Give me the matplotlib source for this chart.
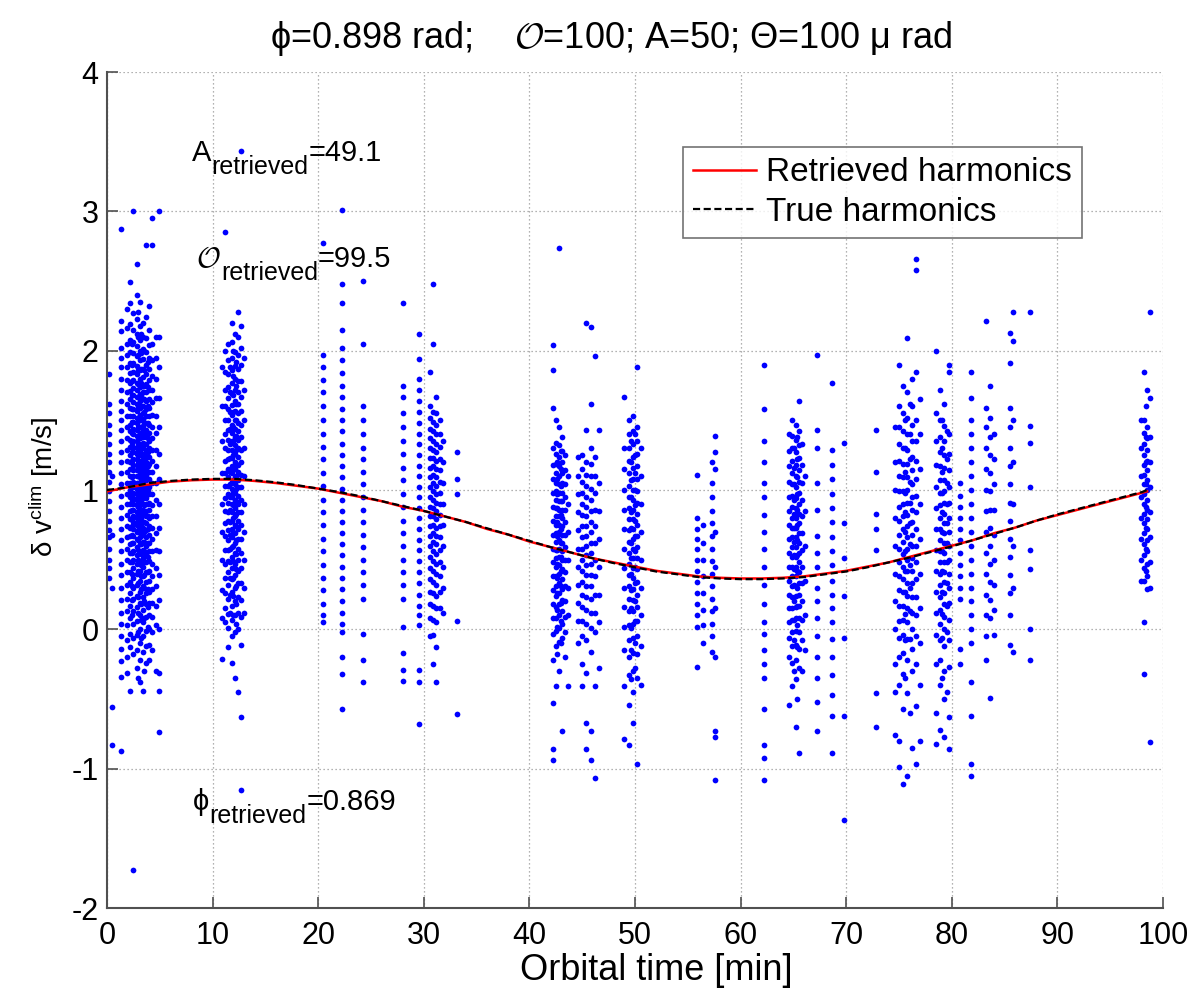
import matplotlib
matplotlib.use("Agg")
import matplotlib.pyplot as plt

plt.rcParams['font.family'] = ['Liberation Sans', 'DejaVu Sans']
plt.rcParams['mathtext.fontset'] = 'custom'
plt.rcParams['mathtext.rm'] = 'Liberation Sans'
plt.rcParams['mathtext.it'] = 'Liberation Sans:italic'
plt.rcParams['mathtext.bf'] = 'Liberation Sans:bold'
plt.rcParams['mathtext.sf'] = 'Liberation Sans'
plt.rcParams['mathtext.cal'] = 'cmsy10'

# ---------------- harmonic curves ----------------
curve_t = [0, 2, 4, 6, 8, 10, 12, 14, 16, 18, 20, 22, 24, 26, 28, 30, 32, 34, 36, 38,
           40, 42, 44, 46, 48, 50, 52, 54, 56, 58, 60, 62, 64, 66, 68, 70, 72, 74, 76, 78,
           80, 82, 84, 86, 88, 90, 92, 94, 96, 98, 98.5]
retrieved_v = [0.99, 1.02, 1.04, 1.06, 1.07, 1.075, 1.075, 1.065, 1.05, 1.03, 1.01, 0.98, 0.95,
               0.92, 0.88, 0.85, 0.81, 0.77, 0.72, 0.68, 0.63, 0.59, 0.55, 0.51, 0.48, 0.45, 0.42,
               0.40, 0.38, 0.37, 0.365, 0.365, 0.37, 0.38, 0.40, 0.42, 0.45, 0.48, 0.52, 0.56, 0.60,
               0.64, 0.69, 0.73, 0.78, 0.82, 0.86, 0.90, 0.94, 0.98, 0.99]
true_v = [1.0, 1.02, 1.05, 1.065, 1.075, 1.08, 1.08, 1.07, 1.055, 1.035, 1.01, 0.985, 0.955,
          0.92, 0.885, 0.85, 0.81, 0.77, 0.725, 0.68, 0.635, 0.59, 0.55, 0.51, 0.475, 0.445, 0.415,
          0.395, 0.375, 0.365, 0.36, 0.36, 0.365, 0.375, 0.395, 0.415, 0.445, 0.48, 0.515, 0.555,
          0.595, 0.64, 0.685, 0.73, 0.78, 0.825, 0.865, 0.905, 0.945, 0.985, 1.0]

# ---------------- scatter data: tracks (x) and their y values ----------------
cA_x = [0.15, 0.5, 1.3]
cA_y = [[1.83, 1.62, 1.55, 1.47, 1.4, 1.33, 1.26, 1.2, 1.13, 1.06, 0.99, 0.92, 0.85, 0.78, 0.71, 0.66, 0.58, 0.5, 0.44, 0.37],
        [1.1, 0.68, 0.3, -0.56, -0.83],
        [2.87, 2.21, 2.14, 2.02, 1.95, 1.88, 1.8, 1.72, 1.64, 1.57, 1.5, 1.43, 1.35, 1.27, 1.2, 1.12, 1.04, 0.96, 0.88,
         0.8, 0.72, 0.64, 0.56, 0.47, 0.39, 0.3, 0.21, 0.12, 0.04, -0.05, -0.14, -0.23, -0.34, -0.87]]

cB_x = [1.9, 2.2, 2.5, 2.8, 3.1, 3.4, 3.7, 4.0, 4.3, 4.6, 4.9, 2.35, 2.95, 3.25, 3.55, 3.85]
cB_y = [[2.3, 2.16, 2.05, 1.97, 1.88, 1.79, 1.7, 1.62, 1.53, 1.45, 1.37, 1.29, 1.21, 1.13, 1.05, 0.97, 0.9, 0.82, 0.74,
         0.66, 0.58, 0.5, 0.41, 0.32, 0.22, 0.13, 0.03, -0.08, -0.2, -0.31],
        [2.49, 2.34, 2.19, 2.08, 1.99, 1.91, 1.84, 1.77, 1.71, 1.65, 1.59, 1.53, 1.47, 1.42, 1.36, 1.31, 1.25, 1.2, 1.15,
         1.1, 1.05, 1.0, 0.95, 0.9, 0.85, 0.79, 0.73, 0.67, 0.61, 0.55, 0.48, 0.41, 0.34, 0.26, 0.17, 0.08, -0.03, -0.13, -0.44],
        [3.0, 2.27, 2.15, 2.06, 1.98, 1.91, 1.85, 1.79, 1.73, 1.68, 1.63, 1.58, 1.53, 1.49, 1.44, 1.4, 1.35, 1.31, 1.27,
         1.22, 1.18, 1.14, 1.1, 1.06, 1.02, 0.98, 0.94, 0.9, 0.86, 0.81, 0.77, 0.72, 0.67, 0.62, 0.56, 0.5, 0.44, 0.37,
         0.3, 0.22, 0.13, 0.04, -0.06, -0.18, -1.73],
        [2.62, 2.4, 2.23, 2.12, 2.03, 1.96, 1.89, 1.83, 1.77, 1.72, 1.67, 1.62, 1.57, 1.52, 1.48, 1.43, 1.39, 1.35, 1.3,
         1.26, 1.22, 1.18, 1.14, 1.1, 1.05, 1.01, 0.97, 0.93, 0.89, 0.84, 0.8, 0.75, 0.7, 0.65, 0.59, 0.53, 0.47, 0.4,
         0.32, 0.24, 0.16, 0.06, -0.04, -0.15, -0.28],
        [2.35, 2.18, 2.08, 2.0, 1.93, 1.86, 1.8, 1.74, 1.69, 1.64, 1.59, 1.54, 1.5, 1.45, 1.41, 1.37, 1.33, 1.29, 1.25,
         1.21, 1.17, 1.13, 1.09, 1.05, 1.01, 0.97, 0.93, 0.89, 0.85, 0.8, 0.76, 0.71, 0.66, 0.61, 0.55, 0.49, 0.42,
         0.35, 0.27, 0.19, 0.1, 0.0, -0.1, -0.22, -0.38],
        [2.2, 2.1, 2.01, 1.94, 1.87, 1.81, 1.75, 1.7, 1.65, 1.6, 1.55, 1.51, 1.46, 1.42, 1.38, 1.34, 1.3, 1.26, 1.22,
         1.18, 1.14, 1.1, 1.06, 1.02, 0.98, 0.94, 0.9, 0.86, 0.82, 0.77, 0.73, 0.68, 0.63, 0.57, 0.51, 0.45, 0.38,
         0.31, 0.23, 0.14, 0.05, -0.05, -0.16, -0.44],
        [2.76, 2.24, 2.09, 1.99, 1.9, 1.83, 1.76, 1.7, 1.64, 1.58, 1.53, 1.48, 1.43, 1.38, 1.33, 1.29, 1.24, 1.2, 1.15,
         1.11, 1.07, 1.02, 0.98, 0.94, 0.9, 0.85, 0.81, 0.76, 0.71, 0.66, 0.6, 0.54, 0.48, 0.41, 0.34, 0.26, 0.18,
         0.09, -0.01, -0.12, -0.24],
        [2.32, 2.15, 2.04, 1.95, 1.87, 1.79, 1.72, 1.65, 1.59, 1.53, 1.47, 1.41, 1.35, 1.3, 1.24, 1.19, 1.13, 1.08,
         1.02, 0.97, 0.91, 0.86, 0.8, 0.74, 0.68, 0.62, 0.56, 0.49, 0.42, 0.35, 0.27, 0.19, 0.1, 0.0, -0.11, -0.22],
        [2.95, 2.76, 2.05, 1.93, 1.82, 1.72, 1.63, 1.54, 1.45, 1.37, 1.29, 1.21, 1.13, 1.05, 0.97, 0.89, 0.81, 0.73,
         0.65, 0.56, 0.47, 0.38, 0.29, 0.19, 0.09, -0.02, -0.15],
        [2.1, 1.95, 1.8, 1.66, 1.53, 1.41, 1.29, 1.17, 1.05, 0.93, 0.81, 0.69, 0.57, 0.44, 0.31, 0.17, 0.03, -0.3],
        [3.0, 2.1, 1.88, 1.66, 1.45, 1.26, 1.08, 0.9, 0.73, 0.56, 0.39, 0.21, 0.0, -0.31, -0.44, -0.74],
        [2.05, 1.9, 1.78, 1.68, 1.58, 1.49, 1.41, 1.34, 1.27, 1.21, 1.15, 1.09, 1.03, 0.97, 0.92, 0.86, 0.8, 0.74,
         0.68, 0.62, 0.55, 0.48, 0.4, 0.31, 0.21, 0.1],
        [2.28, 2.1, 1.97, 1.86, 1.76, 1.67, 1.59, 1.52, 1.45, 1.39, 1.33, 1.27, 1.21, 1.16, 1.1, 1.05, 0.99, 0.94,
         0.88, 0.83, 0.77, 0.71, 0.64, 0.57, 0.5, 0.42, 0.33, 0.23, 0.12, -0.02, -0.35],
        [2.12, 1.98, 1.87, 1.77, 1.68, 1.6, 1.52, 1.45, 1.38, 1.32, 1.26, 1.2, 1.14, 1.08, 1.03, 0.97, 0.92, 0.86,
         0.8, 0.74, 0.68, 0.61, 0.54, 0.46, 0.38, 0.29, 0.18, 0.07, -0.06],
        [2.0, 1.86, 1.75, 1.65, 1.56, 1.48, 1.4, 1.33, 1.26, 1.19, 1.13, 1.07, 1.01, 0.95, 0.89, 0.83, 0.77, 0.7,
         0.63, 0.56, 0.48, 0.39, 0.3, 0.2, 0.08, -0.3],
        [1.92, 1.74, 1.6, 1.48, 1.37, 1.27, 1.17, 1.08, 0.99, 0.9, 0.81, 0.72, 0.62, 0.52, 0.41, 0.29, 0.16, 0.02]]

cC_x = [10.9, 11.2, 11.5, 11.8, 12.1, 12.4, 12.7, 13.0, 11.65, 11.95, 12.25]
cC_y = [[1.88, 1.6, 1.35, 1.12, 0.9, 0.7, 0.5, 0.28, 0.08, -0.21],
        [2.85, 2.0, 1.85, 1.72, 1.6, 1.5, 1.4, 1.3, 1.21, 1.12, 1.03, 0.94, 0.85, 0.76, 0.67, 0.57, 0.47, 0.37, 0.26, 0.15, 0.05],
        [2.05, 1.93, 1.83, 1.74, 1.66, 1.58, 1.5, 1.43, 1.36, 1.29, 1.22, 1.15, 1.09, 1.03, 0.97, 0.91, 0.84, 0.78,
         0.71, 0.64, 0.57, 0.49, 0.41, 0.32, 0.22, 0.11, 0.01, -0.13],
        [2.2, 2.06, 1.95, 1.86, 1.77, 1.69, 1.61, 1.54, 1.47, 1.41, 1.35, 1.29, 1.23, 1.17, 1.12, 1.06, 1.01, 0.95,
         0.9, 0.84, 0.78, 0.72, 0.66, 0.59, 0.52, 0.44, 0.36, 0.27, 0.17, 0.07, -0.05, -0.24],
        [2.12, 1.99, 1.89, 1.8, 1.72, 1.64, 1.57, 1.5, 1.44, 1.38, 1.32, 1.26, 1.2, 1.15, 1.09, 1.04, 0.98, 0.93,
         0.87, 0.81, 0.75, 0.69, 0.62, 0.55, 0.47, 0.39, 0.3, 0.2, 0.1, -0.02, -0.35],
        [2.28, 2.1, 1.97, 1.87, 1.78, 1.7, 1.62, 1.55, 1.48, 1.42, 1.36, 1.3, 1.24, 1.18, 1.13, 1.07, 1.02, 0.96,
         0.9, 0.84, 0.78, 0.72, 0.65, 0.58, 0.5, 0.42, 0.33, 0.23, 0.12, 0.0, -0.45],
        [3.43, 2.18, 2.02, 1.9, 1.78, 1.67, 1.57, 1.47, 1.38, 1.29, 1.2, 1.11, 1.02, 0.93, 0.84, 0.75, 0.65, 0.55,
         0.44, 0.33, 0.21, 0.09, -0.11, -0.63, -1.15],
        [1.95, 1.72, 1.5, 1.3, 1.1, 0.9, 0.7, 0.5, 0.3, 0.12],
        [1.88, 1.7, 1.56, 1.44, 1.33, 1.23, 1.13, 1.04, 0.95, 0.86, 0.77, 0.68, 0.58, 0.48, 0.37, 0.25, 0.12],
        [2.0, 1.82, 1.68, 1.56, 1.45, 1.35, 1.25, 1.16, 1.07, 0.98, 0.89, 0.8, 0.7, 0.6, 0.49, 0.37, 0.24, 0.1],
        [1.92, 1.75, 1.62, 1.5, 1.39, 1.29, 1.19, 1.1, 1.01, 0.92, 0.83, 0.74, 0.64, 0.54, 0.43, 0.31, 0.18, 0.04]]

cD_x = [20.5, 22.3, 24.2, 28.0, 29.5]
cD_y = [[2.77, 1.97, 1.88, 1.79, 1.7, 1.6, 1.5, 1.4, 1.31, 1.22, 1.12, 1.03, 0.93, 0.84, 0.75, 0.65, 0.56, 0.46,
         0.37, 0.28, 0.18, 0.1, 0.05],
        [3.01, 2.48, 2.34, 2.15, 2.02, 1.93, 1.84, 1.75, 1.67, 1.58, 1.5, 1.42, 1.33, 1.25, 1.17, 1.09, 1.01, 0.93,
         0.85, 0.77, 0.69, 0.61, 0.53, 0.45, 0.37, 0.29, 0.2, 0.12, 0.04, -0.02, -0.2, -0.32, -0.57],
        [2.5, 2.05, 1.6, 1.5, 1.4, 1.3, 1.22, 1.13, 1.04, 0.95, 0.86, 0.77, 0.68, 0.59, 0.5, 0.41, 0.32, 0.22,
         -0.03, -0.22, -0.38],
        [2.34, 1.75, 1.67, 1.55, 1.45, 1.35, 1.26, 1.16, 1.07, 0.97, 0.88, 0.78, 0.69, 0.6, 0.5, 0.41, 0.32, 0.22,
         0.02, -0.17, -0.29, -0.37],
        [2.12, 1.94, 1.8, 1.72, 1.64, 1.56, 1.48, 1.4, 1.33, 1.25, 1.17, 1.1, 1.02, 0.95, 0.87, 0.8, 0.72, 0.64,
         0.57, 0.49, 0.41, 0.33, 0.25, 0.17, 0.1, 0.03, -0.29, -0.38, -0.68]]

cE_x = [30.6, 30.9, 31.2, 31.5, 31.8, 33.1]
cE_y = [[1.85, 1.6, 1.52, 1.44, 1.37, 1.3, 1.23, 1.16, 1.09, 1.02, 0.95, 0.88, 0.81, 0.74, 0.67, 0.6, 0.52, 0.44,
         0.36, 0.27, 0.18, 0.08, -0.05],
        [2.48, 2.05, 1.56, 1.49, 1.42, 1.35, 1.29, 1.23, 1.17, 1.11, 1.05, 0.99, 0.93, 0.87, 0.81, 0.75, 0.69, 0.63,
         0.56, 0.49, 0.42, 0.34, 0.26, 0.17, 0.07, -0.04, -0.25],
        [1.67, 1.55, 1.47, 1.4, 1.33, 1.27, 1.21, 1.15, 1.09, 1.03, 0.97, 0.91, 0.85, 0.79, 0.73, 0.67, 0.61, 0.54,
         0.47, 0.4, 0.32, 0.24, 0.15, 0.05, -0.13, -0.38],
        [1.5, 1.4, 1.31, 1.22, 1.14, 1.06, 0.98, 0.9, 0.82, 0.74, 0.66, 0.57, 0.48, 0.38, 0.27, 0.15],
        [1.35, 1.2, 1.05, 0.9, 0.75, 0.6, 0.45, 0.3, 0.12],
        [1.27, 1.08, 0.97, 0.06, -0.61]]

cF_x = [42.2, 42.5, 42.8, 43.1, 43.4, 43.7, 42.65, 42.95]
cF_y = [[2.04, 1.86, 1.59, 1.3, 1.18, 1.08, 0.98, 0.88, 0.78, 0.68, 0.58, 0.48, 0.38, 0.28, 0.18, 0.08, -0.03,
         -0.22, -0.53, -0.86, -0.94],
        [1.5, 1.34, 1.26, 1.19, 1.12, 1.05, 0.99, 0.93, 0.87, 0.81, 0.75, 0.69, 0.63, 0.57, 0.51, 0.45, 0.38, 0.31,
         0.24, 0.16, 0.08, -0.01, -0.12, -0.41],
        [2.74, 1.45, 1.32, 1.24, 1.17, 1.1, 1.04, 0.98, 0.92, 0.86, 0.81, 0.75, 0.7, 0.64, 0.58, 0.52, 0.46, 0.4,
         0.33, 0.26, 0.18, 0.1, 0.01, -0.09, -0.3],
        [1.38, 1.28, 1.2, 1.12, 1.05, 0.98, 0.92, 0.86, 0.8, 0.74, 0.68, 0.62, 0.56, 0.5, 0.43, 0.36, 0.29, 0.21,
         0.13, 0.04, -0.06, -0.73],
        [1.25, 1.14, 1.04, 0.95, 0.86, 0.77, 0.68, 0.59, 0.5, 0.41, 0.31, 0.2, 0.09, -0.02, -0.2],
        [1.1, 0.9, 0.7, 0.5, 0.3, 0.1, -0.41],
        [1.2, 1.08, 0.97, 0.87, 0.77, 0.67, 0.57, 0.47, 0.37, 0.26, 0.14, 0.02, -0.18],
        [1.28, 1.15, 1.03, 0.92, 0.82, 0.72, 0.62, 0.52, 0.42, 0.31, 0.19, 0.06, -0.1]]

cG_x = [44.6, 45.0, 45.4, 45.8, 46.2, 46.6]
cG_y = [[1.24, 1.1, 0.97, 0.84, 0.71, 0.58, 0.45, 0.32, 0.19, 0.06, -0.1],
        [1.25, 1.15, 1.06, 0.98, 0.9, 0.82, 0.74, 0.66, 0.58, 0.5, 0.42, 0.34, 0.25, 0.16, 0.06, -0.05, -0.25, -0.41],
        [2.2, 1.43, 1.2, 1.11, 1.03, 0.95, 0.88, 0.81, 0.74, 0.67, 0.6, 0.53, 0.46, 0.39, 0.31, 0.23, 0.14, 0.04,
         -0.08, -0.31, -0.67, -0.86],
        [2.17, 1.62, 1.3, 1.19, 1.1, 1.01, 0.93, 0.85, 0.77, 0.7, 0.62, 0.55, 0.47, 0.39, 0.31, 0.22, 0.12, 0.01,
         -0.16, -0.73, -0.94],
        [1.96, 1.24, 1.1, 0.98, 0.86, 0.74, 0.62, 0.5, 0.38, 0.25, 0.12, -0.02, -0.41, -1.07],
        [1.43, 1.05, 0.85, 0.65, 0.45, 0.25, 0.05, -0.28]]

cH_x = [49.0, 49.4, 49.8, 50.2, 50.6, 49.6, 50.0]
cH_y = [[1.67, 1.3, 1.15, 1.0, 0.86, 0.72, 0.58, 0.44, 0.3, 0.16, 0.02, -0.15, -0.41, -0.79],
        [1.5, 1.4, 1.3, 1.21, 1.12, 1.03, 0.95, 0.87, 0.79, 0.71, 0.63, 0.55, 0.47, 0.39, 0.31, 0.22, 0.13, 0.03,
         -0.08, -0.2, -0.33, -0.54, -0.83],
        [1.53, 1.42, 1.33, 1.24, 1.16, 1.08, 1.0, 0.93, 0.86, 0.79, 0.72, 0.65, 0.58, 0.51, 0.44, 0.37, 0.29, 0.21,
         0.13, 0.04, -0.06, -0.17, -0.3, -0.45, -0.67],
        [1.88, 1.45, 1.35, 1.26, 1.17, 1.08, 0.99, 0.91, 0.83, 0.75, 0.67, 0.59, 0.51, 0.43, 0.34, 0.25, 0.16, 0.06,
         -0.05, -0.18, -0.35, -0.97],
        [1.3, 1.1, 0.9, 0.7, 0.5, 0.3, 0.1, -0.12, -0.4],
        [1.35, 1.2, 1.07, 0.95, 0.84, 0.73, 0.62, 0.51, 0.4, 0.28, 0.15, 0.01, -0.15, -0.36],
        [1.4, 1.25, 1.12, 1.0, 0.89, 0.78, 0.67, 0.56, 0.45, 0.33, 0.2, 0.06, -0.1, -0.28]]

cI_x = [55.9, 56.4, 57.3, 57.6, 62.2]
cI_y = [[1.11, 0.8, 0.72, 0.65, 0.58, 0.5, 0.42, 0.34, 0.26, 0.18, 0.1, 0.02, -0.27],
        [0.75, 0.62, 0.5, 0.38, 0.26, 0.14, 0.03, -0.1],
        [1.2, 1.05, 0.95, 0.85, 0.76, 0.67, 0.58, 0.49, 0.4, 0.31, 0.22, 0.13, 0.04, -0.05, -0.16],
        [1.39, 1.27, 1.15, 0.7, 0.45, 0.15, -0.2, -0.73, -0.77, -1.08],
        [1.9, 1.58, 1.35, 1.2, 1.05, 0.95, 0.82, 0.7, 0.58, 0.45, 0.32, 0.18, 0.05, -0.03, -0.15, -0.25, -0.35,
         -0.57, -0.83, -0.92, -1.08]]

cJ_x = [64.6, 64.9, 65.2, 65.5, 65.8, 66.1, 67.2, 68.7, 69.8, 72.8, 65.05, 65.35]
cJ_y = [[1.4, 1.28, 1.17, 1.06, 0.95, 0.85, 0.75, 0.65, 0.55, 0.45, 0.35, 0.25, 0.15, 0.05, -0.06, -0.2, -0.54],
        [1.5, 1.39, 1.3, 1.21, 1.12, 1.04, 0.96, 0.88, 0.8, 0.73, 0.66, 0.59, 0.52, 0.45, 0.38, 0.31, 0.23, 0.15,
         0.07, -0.02, -0.12, -0.24, -0.41],
        [1.47, 1.36, 1.27, 1.18, 1.1, 1.02, 0.94, 0.87, 0.8, 0.73, 0.66, 0.59, 0.52, 0.45, 0.38, 0.31, 0.24, 0.16,
         0.08, -0.01, -0.11, -0.22, -0.36, -0.7],
        [1.64, 1.42, 1.32, 1.23, 1.14, 1.06, 0.98, 0.9, 0.83, 0.76, 0.69, 0.62, 0.55, 0.48, 0.41, 0.33, 0.25, 0.17,
         0.08, -0.02, -0.14, -0.28, -0.89],
        [1.33, 1.18, 1.05, 0.93, 0.81, 0.69, 0.57, 0.45, 0.33, 0.2, 0.07, -0.08, -0.3],
        [1.1, 0.85, 0.6, 0.35, 0.1, -0.15],
        [1.97, 1.43, 1.3, 1.05, 0.86, 0.67, 0.55, 0.45, 0.3, 0.2, 0.08, -0.05, -0.2, -0.35, -0.52, -0.73],
        [1.77, 1.29, 1.18, 1.08, 0.97, 0.87, 0.77, 0.66, 0.56, 0.46, 0.35, 0.25, 0.15, 0.05, -0.07, -0.2, -0.33,
         -0.47, -0.62, -0.89],
        [1.34, 0.76, 0.51, 0.24, -0.06, -0.62, -1.37],
        [1.43, 1.13, 0.83, 0.72, 0.57, -0.46, -0.7],
        [1.3, 1.16, 1.04, 0.93, 0.83, 0.73, 0.63, 0.53, 0.43, 0.32, 0.2, 0.07, -0.08, -0.3],
        [1.38, 1.22, 1.09, 0.97, 0.86, 0.75, 0.64, 0.53, 0.42, 0.3, 0.17, 0.03, -0.13, -0.5]]

cK_x = [74.6, 75.0, 75.4, 75.8, 76.2, 76.6, 77.0, 75.6, 76.0]
cK_y = [[1.45, 1.2, 1.0, 0.8, 0.6, 0.4, 0.2, 0.0, -0.25, -0.45, -0.76],
        [1.9, 1.6, 1.45, 1.33, 1.21, 1.1, 0.99, 0.88, 0.78, 0.68, 0.58, 0.48, 0.38, 0.28, 0.17, 0.06, -0.06, -0.2,
         -0.4, -0.8, -0.99],
        [1.75, 1.55, 1.42, 1.3, 1.19, 1.09, 0.99, 0.9, 0.81, 0.72, 0.63, 0.54, 0.45, 0.36, 0.27, 0.17, 0.07, -0.04,
         -0.17, -0.32, -0.57, -1.11],
        [2.09, 1.7, 1.52, 1.4, 1.29, 1.19, 1.09, 1.0, 0.91, 0.82, 0.74, 0.66, 0.58, 0.5, 0.42, 0.33, 0.24, 0.15,
         0.05, -0.07, -0.22, -0.46, -1.05],
        [1.8, 1.6, 1.47, 1.35, 1.24, 1.14, 1.04, 0.95, 0.86, 0.77, 0.68, 0.6, 0.51, 0.42, 0.33, 0.23, 0.12, 0.0,
         -0.14, -0.3, -0.85],
        [2.66, 2.58, 1.85, 1.5, 1.35, 1.21, 1.08, 0.96, 0.84, 0.72, 0.6, 0.48, 0.36, 0.23, 0.1, -0.05, -0.25,
         -0.55, -0.97],
        [1.65, 1.4, 1.15, 0.9, 0.65, 0.4, 0.15, -0.1, -0.4, -0.8],
        [1.5, 1.3, 1.13, 0.98, 0.84, 0.7, 0.56, 0.42, 0.27, 0.11, -0.08, -0.35],
        [1.62, 1.4, 1.22, 1.06, 0.91, 0.76, 0.61, 0.46, 0.3, 0.13, -0.07, -0.6]]

cL_x = [78.5, 78.9, 79.3, 79.7, 80.8, 81.8, 79.1, 79.5]
cL_y = [[2.0, 1.55, 1.35, 1.18, 1.02, 0.87, 0.72, 0.57, 0.42, 0.27, 0.12, -0.04, -0.25, -0.6, -0.82],
        [1.72, 1.5, 1.38, 1.27, 1.17, 1.07, 0.98, 0.89, 0.8, 0.72, 0.64, 0.56, 0.48, 0.4, 0.32, 0.23, 0.14, 0.04,
         -0.08, -0.22, -0.4, -0.72],
        [1.62, 1.46, 1.35, 1.25, 1.16, 1.07, 0.99, 0.91, 0.83, 0.76, 0.69, 0.62, 0.55, 0.48, 0.41, 0.34, 0.26,
         0.18, 0.09, 0.0, -0.12, -0.3, -0.5, -0.77],
        [1.9, 1.85, 1.4, 1.26, 1.14, 1.02, 0.91, 0.8, 0.7, 0.6, 0.5, 0.4, 0.3, 0.19, 0.07, -0.08, -0.27, -0.63, -0.86],
        [1.05, 0.96, 0.88, 0.8, 0.72, 0.64, 0.55, 0.46, 0.38, 0.3, 0.22, -0.14, -0.25],
        [1.85, 1.66, 1.5, 1.4, 1.3, 1.2, 1.1, 1.0, 0.9, 0.8, 0.7, 0.6, 0.5, 0.4, 0.3, 0.2, 0.1, 0.0, -0.1, -0.38,
         -0.62, -0.97, -1.05],
        [1.5, 1.3, 1.13, 0.98, 0.84, 0.7, 0.56, 0.42, 0.27, 0.11, -0.06, -0.35],
        [1.42, 1.22, 1.05, 0.9, 0.76, 0.62, 0.48, 0.33, 0.17, -0.02, -0.45]]

cM_x = [83.2, 83.6, 84.0, 85.5, 85.8, 87.4]
cM_y = [[2.21, 1.59, 1.45, 1.3, 1.15, 1.0, 0.85, 0.7, 0.55, 0.4, 0.25, 0.1, -0.05, -0.22],
        [1.75, 1.52, 1.38, 1.25, 1.12, 0.99, 0.86, 0.73, 0.6, 0.47, 0.34, 0.21, 0.08, -0.49],
        [1.4, 1.22, 1.04, 0.86, 0.68, 0.5, 0.32, 0.14, -0.04],
        [2.13, 1.91, 1.59, 1.45, 1.3, 1.17, 1.04, 0.91, 0.78, 0.65, 0.52, 0.39, 0.26, 0.1, -0.11],
        [2.28, 2.07, 1.5, 1.2, 0.9, 0.6, 0.3, -0.16],
        [2.28, 1.46, 1.34, 1.02, 0.57, 0.43, 0.0, -0.22]]

cN_x = [97.9, 98.2, 98.5, 98.8, 98.35]
cN_y = [[1.5, 1.3, 1.1, 0.95, 0.8, 0.65, 0.5, 0.35],
        [1.85, 1.5, 1.41, 1.33, 1.25, 1.18, 1.11, 1.04, 0.97, 0.9, 0.83, 0.76, 0.69, 0.61, 0.53, 0.44, 0.35,
         0.05, -0.32],
        [1.72, 1.45, 1.37, 1.29, 1.21, 1.14, 1.07, 1.0, 0.93, 0.86, 0.79, 0.72, 0.64, 0.56, 0.47, 0.38, 0.29],
        [2.28, 1.66, 1.38, 1.2, 1.02, 0.84, 0.66, 0.48, 0.3, -0.81],
        [1.6, 1.38, 1.2, 1.04, 0.88, 0.73, 0.58, 0.42]]

x_ticks = [0, 10, 20, 30, 40, 50, 60, 70, 80, 90, 100]
y_ticks = [-2, -1, 0, 1, 2, 3, 4]

# ---------------- figure ----------------
W, H = 1203, 990
fig = plt.figure(figsize=(W / 100, H / 100), dpi=100)
ax = fig.add_axes([107 / W, (H - 908) / H, 1056 / W, 836 / H])

px, py = [], []
for tx, ty in [(cA_x, cA_y), (cB_x, cB_y), (cC_x, cC_y), (cD_x, cD_y), (cE_x, cE_y), (cF_x, cF_y),
               (cG_x, cG_y), (cH_x, cH_y), (cI_x, cI_y), (cJ_x, cJ_y), (cK_x, cK_y), (cL_x, cL_y),
               (cM_x, cM_y), (cN_x, cN_y)]:
    for xx, ys in zip(tx, ty):
        px.extend([xx] * len(ys))
        py.extend(ys)

ax.scatter(px, py, s=17, color=(0, 0, 1), linewidths=0, zorder=2)
ax.plot(curve_t, retrieved_v, color=(1, 0, 0), lw=1.8, zorder=3, label='Retrieved harmonics')
ax.plot(curve_t, true_v, color='black', lw=1.6, linestyle=(0, (3.2, 1.6)), zorder=4, label='True harmonics')

ax.set_xlim(0, 100)
ax.set_ylim(-2, 4)
ax.set_xticks(x_ticks)
ax.set_yticks(y_ticks)
ax.set_xticklabels([str(v) for v in x_ticks])
ax.set_yticklabels([str(v) for v in y_ticks])
ax.tick_params(direction='in', length=8, width=1.2, labelsize=22, color='#505050', pad=6)
ax.tick_params(axis='x', pad=9)
ax.grid(True, linestyle=(0, (1, 2.2)), color='#999999', lw=0.9, zorder=0)
ax.set_axisbelow(True)
for side in ['top', 'right']:
    ax.spines[side].set_visible(False)
for side in ['left', 'bottom']:
    ax.spines[side].set_color('#505050')
    ax.spines[side].set_linewidth(1.5)

leg = ax.legend(loc='upper left', bbox_to_anchor=(0.545, 0.91), fontsize=24, frameon=True,
                fancybox=False, edgecolor='#505050', handlelength=1.9, handletextpad=0.3,
                labelspacing=0.25, borderpad=0.3, borderaxespad=0)
leg.get_frame().set_linewidth(1.2)


def sub_text(x, y, main, sub, rest):
    t1 = ax.text(x, y, main, fontsize=21, ha='left', va='baseline')
    t2 = ax.annotate(sub, xy=(1, y), xycoords=(t1, 'data'), xytext=(0.5, -9),
                     textcoords='offset points', fontsize=18, ha='left', va='baseline')
    ax.annotate(rest, xy=(1, y), xycoords=(t2, 'data'), xytext=(0, 0),
                textcoords='offset points', fontsize=21, ha='left', va='baseline')


sub_text(8.0, 3.36, 'A', 'retrieved', '=49.1')
sub_text(8.4, 2.6, r'$\mathcal{O}$', 'retrieved', '=99.5')
sub_text(8.1, -1.3, 'ϕ', 'retrieved', '=0.869')

fig.text(611 / W, 1 - 38 / H, r'ϕ=0.898 rad;    $\mathcal{O}$=100; A=50; Θ=100 μ rad',
         fontsize=26, ha='center', va='center')
fig.text(656 / W, 1 - 970 / H, 'Orbital time [min]', fontsize=26, ha='center', va='center')
fig.text(44 / W, 1 - 487 / H, r'δ v$^{\mathrm{clim}}$ [m/s]', fontsize=20, ha='center', va='center',
         rotation=90)

fig.savefig('out.png', dpi=100)
